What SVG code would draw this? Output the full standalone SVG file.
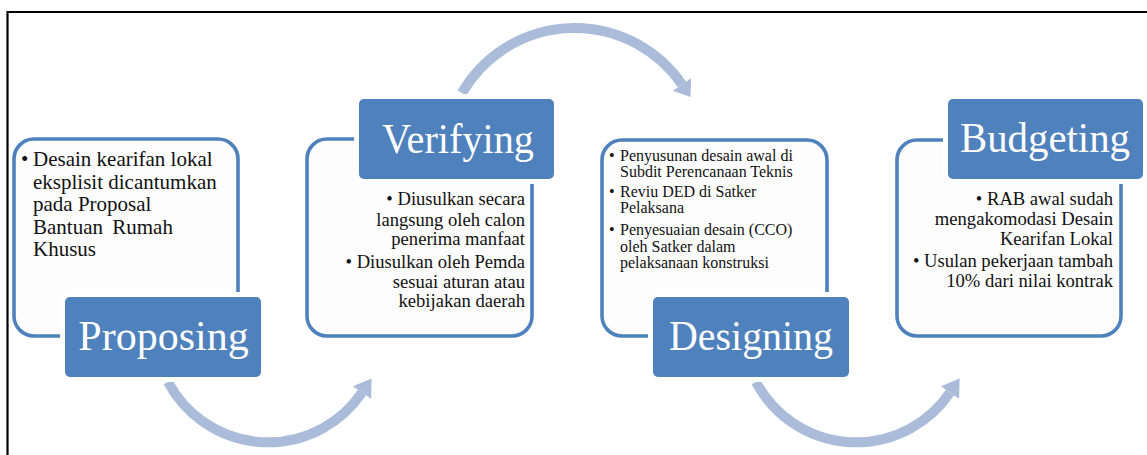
<svg xmlns="http://www.w3.org/2000/svg" width="1147" height="455" viewBox="0 0 1147 455">
<defs>
<style>
.frame{fill:none;stroke:#000;stroke-width:2.2}
.outline{fill:#FDFDFD;stroke:#4F81BD;stroke-width:3.6}
.label{fill:#4F81BD;stroke:#fff;stroke-width:10;paint-order:stroke}
.title{font-family:"Liberation Serif",serif;font-size:42px;fill:#fff;text-anchor:middle}
.body{font-family:"Liberation Serif",serif;fill:#111}
.b21{font-size:21px}
.b18{font-size:18.6px}
.b16{font-size:16px}
.end{text-anchor:end}
.band{fill:none;stroke:#AABCDA;stroke-width:10;stroke-linecap:butt}
.head{fill:#AABCDA}
</style>
</defs>
<rect width="1147" height="455" fill="#fff"/>
<path class="frame" d="M7.5,455 V12 H1147"/>

<g id="connectors">
<g id="arrow-proposing-verifying">
<path class="band" d="M168,382 A113.3,113.3 0 0 0 362,392.5"/>
<polygon class="head" points="371.1,398.7 352.9,386.3 371.6,378.4"/>
</g>
<g id="arrow-verifying-designing">
<path class="band" d="M462,93 A130.2,130.2 0 0 1 682,84.5"/>
<polygon class="head" points="691.1,78.3 672.9,90.7 690.5,96.9"/>
</g>
<g id="arrow-designing-budgeting" transform="translate(588,0)">
<path class="band" d="M168,382 A113.3,113.3 0 0 0 362,392.5"/>
<polygon class="head" points="371.1,398.7 352.9,386.3 371.6,378.4"/>
</g>
</g>

<g id="node-proposing">
<rect class="outline" x="14" y="139" width="224" height="197" rx="20"/>
<text class="body b21" x="21" y="166">•</text>
<text class="body b21" x="33" y="166">Desain kearifan lokal</text>
<text class="body b21" x="33" y="188.5">eksplisit dicantumkan</text>
<text class="body b21" x="33" y="211">pada Proposal</text>
<text class="body b21" x="33" y="233.5" word-spacing="4">Bantuan Rumah</text>
<text class="body b21" x="33" y="256">Khusus</text>
<rect class="label" x="65" y="297" width="196" height="80" rx="5"/>
<text class="title" x="163.5" y="350">Proposing</text>
</g>

<g id="node-verifying">
<rect class="outline" x="307" y="139" width="225" height="197" rx="20"/>
<rect class="label" x="359" y="99" width="195" height="80" rx="5"/>
<text class="title" x="458" y="153" textLength="152" lengthAdjust="spacingAndGlyphs">Verifying</text>
<text class="body b18 end" x="525" y="205">• Diusulkan secara</text>
<text class="body b18 end" x="525" y="225.5">langsung oleh calon</text>
<text class="body b18 end" x="525" y="245">penerima manfaat</text>
<text class="body b18 end" x="525" y="268">• Diusulkan oleh Pemda</text>
<text class="body b18 end" x="525" y="287.5">sesuai aturan atau</text>
<text class="body b18 end" x="525" y="307">kebijakan daerah</text>
</g>

<g id="node-designing">
<rect class="outline" x="602" y="140" width="225" height="196" rx="20"/>
<text class="body b16" x="609" y="160.5">•</text>
<text class="body b16" x="620" y="160.5">Penyusunan desain awal di</text>
<text class="body b16" x="620" y="176.5">Subdit Perencanaan Teknis</text>
<text class="body b16" x="609" y="197">•</text>
<text class="body b16" x="620" y="197">Reviu DED di Satker</text>
<text class="body b16" x="620" y="213">Pelaksana</text>
<text class="body b16" x="609" y="235">•</text>
<text class="body b16" x="620" y="235">Penyesuaian desain (CCO)</text>
<text class="body b16" x="620" y="251.5">oleh Satker dalam</text>
<text class="body b16" x="620" y="268">pelaksanaan konstruksi</text>
<rect class="label" x="653" y="297" width="196" height="80" rx="5"/>
<text class="title" x="751" y="350" textLength="164" lengthAdjust="spacingAndGlyphs">Designing</text>
</g>

<g id="node-budgeting">
<rect class="outline" x="897" y="140" width="224" height="196" rx="20"/>
<rect class="label" x="948" y="99" width="195" height="80" rx="5"/>
<text class="title" x="1045" y="152" textLength="170" lengthAdjust="spacingAndGlyphs">Budgeting</text>
<text class="body b18 end" x="1113" y="205">• RAB awal sudah</text>
<text class="body b18 end" x="1113" y="225">mengakomodasi Desain</text>
<text class="body b18 end" x="1113" y="245">Kearifan Lokal</text>
<text class="body b18 end" x="1113" y="267">• Usulan pekerjaan tambah</text>
<text class="body b18 end" x="1113" y="287">10% dari nilai kontrak</text>
</g>
</svg>
